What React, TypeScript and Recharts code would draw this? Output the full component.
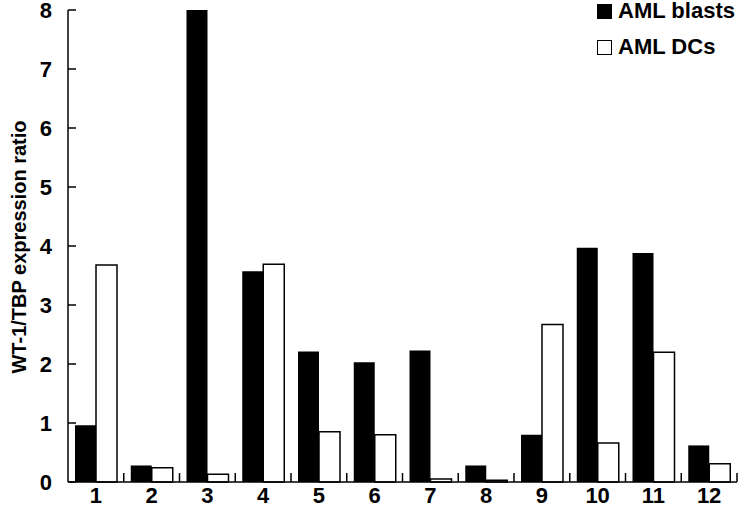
import { Bar, BarChart, Legend, XAxis, YAxis } from "recharts";

const patients = ["1", "2", "3", "4", "5", "6", "7", "8", "9", "10", "11", "12"];
const amlBlasts = [0.96, 0.28, 8.0, 3.57, 2.21, 2.03, 2.23, 0.28, 0.8, 3.97, 3.88, 0.62];
const amlDCs = [3.68, 0.24, 0.13, 3.69, 0.85, 0.8, 0.05, 0.03, 2.67, 0.66, 2.2, 0.31];
const yTicks = [0, 1, 2, 3, 4, 5, 6, 7, 8];
const seriesNames = ["AML blasts", "AML DCs"];

const data = patients.map((p, i) => ({ patient: p, blasts: amlBlasts[i], dcs: amlDCs[i] }));

const FONT = "'Liberation Sans', Arial, sans-serif";
const W = 738;
const H = 527;
const LEFT = 68;
const RIGHT = 1;
const TOP = 10;
const BOTTOM = 482;
const BAND = (W - RIGHT - LEFT) / patients.length;

function YTick(props: any) {
  const { y, payload } = props;
  return (
    <g>
      <line x1={LEFT} x2={LEFT + 8} y1={y} y2={y} stroke="#000" strokeWidth={1.5} />
      <text x={52} y={y} dy="0.36em" textAnchor="end" fontFamily={FONT} fontWeight={700} fontSize={22} fill="#000">
        {payload.value}
      </text>
    </g>
  );
}

function XTick(props: any) {
  const { x, payload } = props;
  const bx = x + BAND / 2;
  return (
    <g>
      <line x1={bx} x2={bx} y1={BOTTOM} y2={BOTTOM - 9} stroke="#000" strokeWidth={1.5} />
      <text x={x} y={503} textAnchor="middle" fontFamily={FONT} fontWeight={700} fontSize={22} fill="#000">
        {payload.value}
      </text>
    </g>
  );
}

function AxisTitle() {
  return (
    <text
      x={19}
      y={247}
      transform="rotate(-90 19 247)"
      textAnchor="middle"
      dominantBaseline="central"
      fontFamily={FONT}
      fontWeight={700}
      fontSize={20}
      fill="#000"
    >
      WT-1/TBP expression ratio
    </text>
  );
}

function LegendBox() {
  return (
    <div style={{ fontFamily: FONT, fontWeight: 700, fontSize: 22, color: "#000", lineHeight: 1 }}>
      {seriesNames.map((name, i) => (
        <div key={name} style={{ display: "flex", alignItems: "center", height: 36 }}>
          <span
            style={{
              display: "inline-block",
              boxSizing: "border-box",
              width: 15,
              height: 15,
              background: i === 0 ? "#000" : "#fff",
              border: "1.5px solid #000",
            }}
          />
          <span style={{ marginLeft: 6 }}>{name}</span>
        </div>
      ))}
    </div>
  );
}

export default function App() {
  return (
    <div style={{ position: "absolute", left: 0, top: 0, width: W, height: H, background: "#fff" }}>
      <BarChart
        width={W}
        height={H}
        data={data}
        margin={{ top: TOP, right: RIGHT, left: 0, bottom: 0 }}
        barGap={0}
        barSize={21}
      >
        <XAxis
          dataKey="patient"
          height={H - BOTTOM}
          tickLine={false}
          axisLine={{ stroke: "#000", strokeWidth: 1.5 }}
          tick={<XTick />}
          interval={0}
        />
        <YAxis
          width={LEFT}
          domain={[0, 8]}
          ticks={yTicks}
          tickLine={false}
          axisLine={{ stroke: "#000", strokeWidth: 1.5 }}
          tick={<YTick />}
          label={<AxisTitle />}
        />
        <Legend
          layout="vertical"
          align="center"
          verticalAlign="middle"
          content={<LegendBox />}
          wrapperStyle={{ top: -7, left: 597, width: 141 }}
        />
        <Bar dataKey="blasts" name={seriesNames[0]} fill="#000" isAnimationActive={false} />
        <Bar dataKey="dcs" name={seriesNames[1]} fill="#fff" stroke="#000" strokeWidth={1.5} isAnimationActive={false} />
      </BarChart>
    </div>
  );
}
